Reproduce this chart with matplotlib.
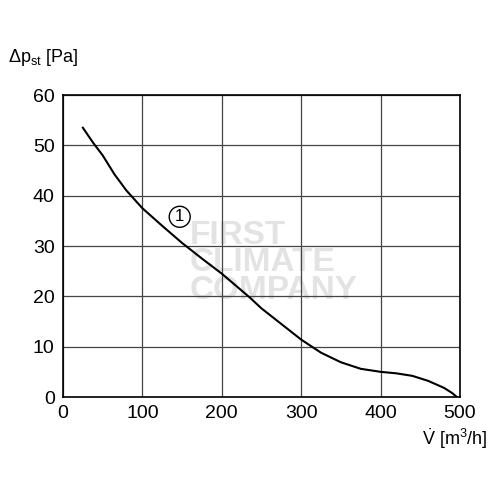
import matplotlib
matplotlib.use("Agg")
import matplotlib.pyplot as plt

plt.rcParams['font.family'] = ['Liberation Sans Narrow', 'Liberation Sans', 'DejaVu Sans']
plt.rcParams['mathtext.fontset'] = 'custom'
plt.rcParams['mathtext.rm'] = 'Liberation Sans'

# fan curve
flow = [25, 38, 50, 65, 80, 100, 125, 150, 175, 200, 235, 250, 275, 300, 325, 350, 375, 400, 420, 440, 460, 480, 490, 496]
pressure = [53.5, 50.5, 48.0, 44.2, 41.0, 37.5, 34.0, 30.6, 27.5, 24.5, 19.8, 17.6, 14.5, 11.4, 8.8, 6.9, 5.6, 5.0, 4.7, 4.2, 3.2, 1.8, 0.8, 0.0]

x_ticks = [0, 100, 200, 300, 400, 500]
y_ticks = [0, 10, 20, 30, 40, 50, 60]

fig = plt.figure(figsize=(5, 5), dpi=100)
ax = fig.add_axes([0.126, 0.206, 0.794, 0.604])

# watermark
ax.text(0.32, 0.445, "FIRST\nCLIMATE\nCOMPANY", transform=ax.transAxes, fontsize=24,
        fontweight='bold', color='#e3e3e3', family=['Liberation Sans', 'DejaVu Sans'],
        ha='left', va='center', linespacing=0.85, zorder=0)

ax.plot(flow, pressure, color='black', lw=1.5, zorder=3)

ax.text(147, 35.8, "1", fontsize=12, ha='center', va='center', zorder=4,
        bbox=dict(boxstyle='circle,pad=0.18', fc='white', ec='black', lw=1))

ax.set_xlim(0, 500)
ax.set_ylim(0, 60)
ax.set_xticks(x_ticks)
ax.set_yticks(y_ticks)
ax.tick_params(length=0, labelsize=14, pad=6)
ax.grid(True, color='#444444', lw=0.9)
ax.set_axisbelow(True)
for s in ax.spines.values():
    s.set_linewidth(1.2)

fig.text(0.015, 0.885, r"$\Delta$p$_{\rm st}$ [Pa]", fontsize=13, ha='left', va='center')
fig.text(0.975, 0.123, r"$\dot{\rm V}$ [m$^3$/h]", fontsize=13, ha='right', va='center')

fig.savefig("out.png", dpi=100)
